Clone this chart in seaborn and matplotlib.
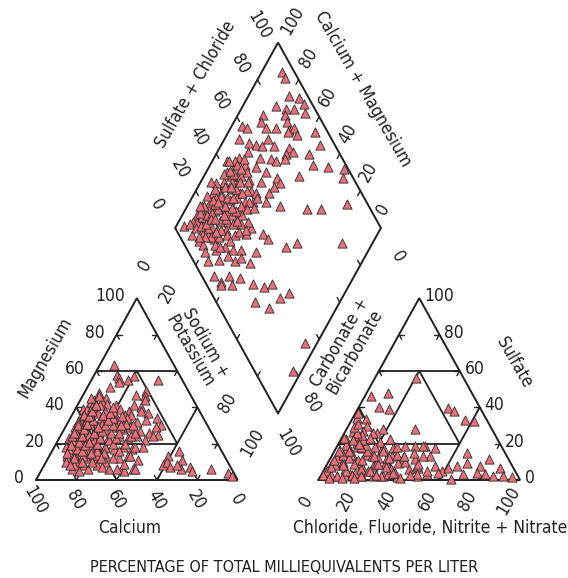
import numpy as np
import pandas as pd
import matplotlib
matplotlib.use("Agg")
import matplotlib.pyplot as plt
import seaborn as sns

# ---------------- data (percent of total milliequivalents per liter) ----------------
# Cation triangle: calcium and magnesium (sodium + potassium = remainder)
CA_PCT = [30, 31, 31, 27, 23, 12, 32, 38, 27, 21, 23, 24, 43, 49, 46, 44, 51, 40, 39, 35,
          31, 28, 57, 55, 51, 47, 44, 38, 35, 29, 26, 61, 56, 51, 47, 43, 38, 34, 29, 23,
          23, 26, 66, 61, 56, 52, 46, 43, 39, 35, 31, 27, 65, 72, 67, 63, 57, 53, 47, 43,
          38, 35, 30, 76, 73, 67, 63, 57, 53, 48, 44, 38, 78, 74, 68, 64, 59, 53, 48, 44,
          79, 72, 61, 54, 49, 33,
          21, 28, 22, 30, 30, 25, 20, 20, 10, 3, 2, 26, 48, 54,
          70, 66, 62, 58, 55, 60, 64, 68, 72, 74, 69, 63, 57, 53, 50, 47, 45, 52, 56, 61,
          65, 59, 54, 49, 44, 41, 46, 51, 56, 61, 66, 71, 76, 78, 75, 71, 67, 63, 55, 51,
          48, 43, 40, 38, 42, 47, 52, 57, 62, 67, 70, 64, 58, 50, 45, 46, 52, 55, 60, 68,
          80, 77, 74, 71, 68, 65, 62, 59, 56, 53, 50, 73, 70, 67, 64, 60, 57, 54, 51, 48,
          45, 42, 75, 72, 69, 66, 63, 58, 55, 52, 49, 46, 43, 40, 37, 59, 62, 77, 79, 65]
MG_PCT = [63, 58, 56, 55, 57, 55, 54, 51, 47, 49, 46, 44, 45, 44, 43, 42, 41, 41, 39, 38,
          41, 40, 39, 38, 37, 38, 36, 36, 36, 38, 37, 34, 33, 34, 33, 33, 34, 32, 33, 34,
          30, 29, 29, 30, 29, 28, 29, 28, 29, 27, 26, 25, 27, 23, 24, 23, 24, 23, 24, 23,
          24, 22, 24, 18, 17, 19, 17, 18, 17, 18, 17, 18, 13, 12, 14, 12, 13, 12, 13, 11,
          6, 8, 6, 6, 6, 8,
          16, 13, 11, 10, 7, 6, 7, 5, 6, 4, 2, 8, 6, 5,
          20, 24, 27, 30, 33, 22, 18, 15, 14, 10, 12, 14, 18, 22, 26, 30, 34, 31, 26, 25,
          29, 35, 38, 36, 29, 24, 20, 16, 12, 10, 8, 6, 5, 12, 17, 22, 27, 32, 39, 43,
          41, 38, 31, 26, 18, 13, 9, 6, 16, 20, 24, 30, 36, 45, 48, 46, 40, 36, 31, 26,
          10, 8, 14, 17, 21, 24, 28, 31, 35, 38, 41, 19, 13, 10, 7, 20, 23, 27, 30, 33,
          37, 40, 12, 10, 16, 19, 21, 26, 29, 20, 23, 26, 30, 35, 30, 15, 12, 15, 8, 15]

# Anion triangle: chloride (+ fluoride, nitrite, nitrate) and sulfate (carbonate + bicarbonate = remainder)
CL_PCT = [20.5, 3, 10.9, 10.1, 15.8, 44.4, 48.3, 56, 61.1, 34, 6.9, 9.4, 8.8, 4, 18.2, 16.2,
          24.3, 14.4, 2.1, 9.1, 6, 13, 23.1, 28.3, 33.7, 38.6, 43.6, 49.1, 2.4, 9.6, 17.4,
          23.6, 30, 35.9, 42.2, 48.8, 2.2, 8, 14.6, 23.3, 28.8, 34.9, 46.2, 1.6, 8.3, 14.1,
          20.7, 26.1, 31.1, 38.3, 47.9, 52.3, 54, 58.9,
          78.9, 86.8, 90.5, 95.2, 85.5, 76.3, 76.8, 81, 68.9, 64.8, 61.1, 66.1, 70.1, 65.3,
          57.5, 45.4, 42.6, 45.1, 47.3, 51.5, 33,
          2, 4, 3, 5, 4, 6, 7, 9, 10, 10, 5, 12, 16, 18, 14, 20, 24, 22, 27, 16,
          14, 11, 9, 14, 20, 24, 28, 30, 33, 36, 30, 40, 38, 32, 30, 36, 42, 44, 45, 40,
          1, 3, 2, 5, 4, 1, 6, 8, 11, 13, 9, 7, 12, 15, 18, 16, 20, 23, 25, 21,
          3, 6, 10, 14, 2, 8, 27, 30, 19, 24, 17, 11, 5, 35, 29, 2, 4, 1]
SO4_PCT = [56, 46, 47.7, 40, 38.9, 39.4, 38.2, 33, 32.5, 27.9, 33.7, 29.8, 27, 26.5, 28, 26,
           22.7, 22.7, 22.7, 20.4, 17.7, 17.7, 17.1, 17.7, 18.8, 18.8, 18.8, 17.7, 14.9, 14.4, 13.8,
           12.2, 13.3, 12.2, 11.6, 13.3, 9.4, 8.8, 9.4, 7.7, 8.8, 9.4, 6.6, 3.9, 2.2, 3.3,
           2.2, 2.2, 2.2, 1.7, 2.2, 3.3, 7.7, 5,
           11.6, 6.6, 2.2, 1.7, 2.2, 7.7, 3.9, 3.3, 9.4, 7.7, 6.6, 14.9, 3.3, 0.5,
           3.9, 13.3, 18.8, 7.7, 3.3, 5, 3.3,
           5, 8, 12, 16, 20, 24, 10, 14, 18, 6, 3, 2, 4, 7, 11, 13, 9, 5, 3, 16,
           19, 22, 25, 26, 21, 17, 12, 8, 6, 4, 2, 1, 10, 14, 18, 13, 6, 3, 9, 15,
           3, 7, 11, 14, 19, 23, 26, 2, 5, 9, 12, 16, 18, 3, 6, 11, 2, 5, 9, 13,
           29, 22, 20, 23, 16, 8, 3, 7, 18, 16, 1, 1, 1, 4, 12, 34, 31, 37]

# Diamond: calcium + magnesium and sulfate + chloride
CAMG_PCT = [90, 87, 80, 75, 71, 84, 78, 74, 68, 88, 77, 95, 92, 87, 83, 78, 74, 71, 69, 71,
            66, 58, 93, 87, 83, 80, 79, 74, 66, 52, 93, 88, 85, 78, 72, 66, 63, 55, 65, 69,
            50, 42, 34, 54, 32, 88, 83, 77, 71, 90, 84, 77, 87, 92, 88, 85, 82, 77, 71, 64,
            61, 91, 87, 83, 78, 73, 70, 64, 63, 85, 81, 78, 73, 69, 63, 55, 41, 34, 23, 93,
            89, 85, 81, 77, 73, 93, 89, 84, 80, 76, 96, 93, 87, 82, 79, 75, 85, 85, 82, 78,
            63, 56, 52, 64, 82, 76, 73, 69, 70, 41, 37, 15, 79, 74, 71, 66, 62, 70, 67, 62,
            60, 54, 54, 75, 68, 63, 61, 55, 47, 41, 38, 27, 41, 33, 30, 57, 62, 6, 4,
            94, 91, 90, 88, 86, 84, 90, 92, 88, 86, 83, 80, 89, 91, 86, 82, 80, 85, 89, 79,
            76, 74, 71, 80, 77, 83, 86, 73, 69, 66, 71, 75, 68, 81, 84, 78, 92, 95, 90, 87,
            92, 90, 88, 86, 89, 91, 87, 84, 82, 80, 86, 93, 94, 89, 87, 84, 81, 85, 83, 79,
            76, 73, 75, 72, 78, 68, 65, 70, 67, 77]
SO4CL_PCT = [94, 94, 91, 95, 96, 82, 86, 90, 94, 73, 84, 60, 62, 70, 71, 76, 83, 82, 85, 81,
             84, 94, 55, 59, 62, 64, 69, 70, 77, 93, 43, 50, 56, 60, 65, 74, 78, 85, 72, 67,
             84, 91, 98, 74, 95, 46, 51, 56, 59, 40, 44, 49, 41, 32, 35, 40, 44, 48, 54, 63,
             63, 28, 32, 38, 41, 47, 49, 55, 59, 30, 34, 38, 41, 45, 51, 57, 69, 76, 90, 19,
             21, 24, 29, 33, 35, 14, 17, 21, 24, 27, 5, 10, 14, 18, 20, 24, 12, 8, 14, 16,
             37, 41, 42, 33, 9, 19, 23, 27, 23, 49, 55, 77, 8, 14, 19, 22, 26, 13, 18, 20,
             24, 27, 33, 7, 6, 8, 13, 18, 23, 27, 32, 38, 19, 24, 32, 12, 7, 32, 19,
             8, 12, 16, 19, 22, 26, 24, 20, 28, 31, 33, 36, 36, 38, 43, 46, 50, 52, 47, 30,
             31, 38, 43, 15, 22, 12, 9, 29, 33, 37, 36, 45, 48, 40, 16, 27, 44, 30, 6, 26,
             16, 10, 13, 16, 26, 30, 35, 38, 30, 27, 28, 24, 18, 42, 47, 48, 44, 20, 22, 19,
             15, 17, 34, 32, 33, 30, 34, 40, 44, 42]

# ---------------- style ----------------
sns.set_theme(style="white")
plt.rcParams["font.family"] = ["Liberation Sans Narrow", "DejaVu Sans"]
plt.rcParams["font.stretch"] = "condensed"
TXT = "#231f20"
LINE = "#231f20"
FILL = "#E9707A"
FS = 12.5

W, H = 568, 578
fig = plt.figure(figsize=(W / 100, H / 100), dpi=100)
ax = fig.add_axes([0, 0, 1, 1])
KX, KY = 2.017, 2.10          # pixels per diagram unit
X0, Y0 = 36, 480               # pixel position of diagram origin
ax.set_xlim(-X0 / KX, (W - X0) / KX)
ax.set_ylim((Y0 - H) / KY, Y0 / KY)
ax.axis("off")


def P(px, py):
    return ((px - X0) / KX, (Y0 - py) / KY)


SQ = np.sqrt(3) / 2
GAP = 40


def cat_xy(ca, mg):
    ca = np.asarray(ca, float); mg = np.asarray(mg, float)
    na = 100 - ca - mg
    return na + mg / 2, mg * SQ


def an_xy(cl, so4):
    cl = np.asarray(cl, float); so4 = np.asarray(so4, float)
    return 100 + GAP + cl + so4 / 2, so4 * SQ


DCX, DCY, DHW, DHH = 120.0, 120.0, 51.0, 88.3
BX, BY = DCX, DCY - DHH
U = np.array([-DHW, DHH])
V = np.array([DHW, DHH])


def dia_xy(camg, so4cl):
    s = np.asarray(camg, float) / 100
    t = np.asarray(so4cl, float) / 100
    return BX + s * U[0] + t * V[0], BY + s * U[1] + t * V[1]


def seg(p, q, lw=1.3):
    ax.plot([p[0], q[0]], [p[1], q[1]], color=LINE, lw=lw, solid_capstyle="butt", zorder=2)


def poly(pts, lw=1.4):
    xs = [p[0] for p in pts] + [pts[0][0]]
    ys = [p[1] for p in pts] + [pts[0][1]]
    ax.plot(xs, ys, color=LINE, lw=lw, solid_joinstyle="miter", zorder=2)


def tick(p, d, L=2.6):
    d = np.asarray(d, float); d = d / np.hypot(*d)
    ax.plot([p[0], p[0] + L * d[0]], [p[1], p[1] + L * d[1]], color=LINE, lw=1.0, zorder=2)


# ---------------- cation triangle ----------------
poly([cat_xy(100, 0), cat_xy(0, 0), cat_xy(0, 100)])
seg(cat_xy(40, 60), cat_xy(0, 60))
seg(cat_xy(80, 20), cat_xy(20, 20))
seg(cat_xy(60, 40), cat_xy(60, 0))
seg(cat_xy(0, 40), cat_xy(40, 0))
seg(cat_xy(20, 60), cat_xy(60, 20))
seg(cat_xy(20, 60), cat_xy(20, 20))
for v in (20, 40, 60, 80):
    b = cat_xy(v, 0); tick(b, (0.5, SQ)); tick(b, (-0.5, SQ))
    l = cat_xy(100 - v, v); tick(l, (1, 0)); tick(l, (0.5, -SQ))
    r = cat_xy(0, v); tick(r, (-1, 0)); tick(r, (-0.5, -SQ))

# ---------------- anion triangle ----------------
poly([an_xy(0, 0), an_xy(100, 0), an_xy(0, 100)])
seg(an_xy(0, 60), an_xy(40, 60))
seg(an_xy(0, 20), an_xy(60, 20))
seg(an_xy(0, 40), an_xy(40, 0))
seg(an_xy(60, 40), an_xy(60, 0))
seg(an_xy(20, 60), an_xy(20, 20))
seg(an_xy(20, 60), an_xy(60, 20))
for v in (20, 40, 60, 80):
    b = an_xy(v, 0); tick(b, (0.5, SQ)); tick(b, (-0.5, SQ))
    l = an_xy(0, v); tick(l, (1, 0)); tick(l, (0.5, -SQ))
    r = an_xy(100 - v, v); tick(r, (-1, 0)); tick(r, (-0.5, -SQ))

# ---------------- diamond ----------------
poly([dia_xy(0, 0), dia_xy(100, 0), dia_xy(100, 100), dia_xy(0, 100)])
for v in (20, 40, 60, 80):
    tick(dia_xy(100, v), -U)
    tick(dia_xy(v, 100), -V)
    tick(dia_xy(v, 0), V)
    tick(dia_xy(0, v), U)

# ---------------- points ----------------
cat = pd.DataFrame({"Ca": CA_PCT, "Mg": MG_PCT})
cat["x"], cat["y"] = cat_xy(cat["Ca"], cat["Mg"])
an = pd.DataFrame({"Cl": CL_PCT, "SO4": SO4_PCT})
an["x"], an["y"] = an_xy(an["Cl"], an["SO4"])
dia = pd.DataFrame({"CaMg": CAMG_PCT, "SO4Cl": SO4CL_PCT})
dia["x"], dia["y"] = dia_xy(dia["CaMg"], dia["SO4Cl"])

for df in (cat, an, dia):
    sns.scatterplot(data=df, x="x", y="y", ax=ax, marker="^", s=44, color=FILL,
                    edgecolor="#2a2a2a", linewidth=0.6, legend=False, zorder=3)

# ---------------- text ----------------
def T(px, py, s, rot=0, ha="center", va="center", fs=FS):
    x, y = P(px, py)
    ax.text(x, y, s, rotation=rot, ha=ha, va=va, fontsize=fs, color=TXT,
            rotation_mode="anchor", linespacing=1.0, zorder=4)


TICKS = ["0", "20", "40", "60", "80", "100"]
# Magnesium (left side of cation triangle)
for i, lab in enumerate(TICKS):
    m = 20 * i
    x, y = cat_xy(100 - m, m)
    ax.text(x - 12 / KX, y + 2 / KY, lab, ha="right", va="center", fontsize=FS, color=TXT)
# Calcium (base of cation triangle)
for i, lab in enumerate(TICKS):
    c = 20 * i
    x, y = cat_xy(c, 0)
    ax.text(x - 1 / KX, y - 20 / KY, lab, ha="center", va="center", rotation=-60,
            rotation_mode="anchor", fontsize=FS, color=TXT)
# Sulfate (right side of anion triangle)
for i, lab in enumerate(TICKS):
    s = 20 * i
    x, y = an_xy(100 - s, s)
    ax.text(x + 5 / KX, y + 2 / KY, lab, ha="left", va="center", fontsize=FS, color=TXT)
# Chloride (base of anion triangle)
for i, lab in enumerate(TICKS):
    c = 20 * i
    x, y = an_xy(c, 0)
    ax.text(x - 12 / KX, y - 21 / KY, lab, ha="center", va="center", rotation=60,
            rotation_mode="anchor", fontsize=FS, color=TXT)

# diamond upper-left: sulfate + chloride
for (px, py), lab in zip([(157, 205), (180, 169), (199, 136), (220, 101), (240, 64), (259, 25)], TICKS):
    T(px, py, lab, rot=-60)
# diamond upper-right: calcium + magnesium
for (px, py), lab in zip([(383, 209), (368, 172), (348, 134), (328, 97), (309, 58), (292, 21)], TICKS):
    T(px, py, lab, rot=60)
# sodium + potassium
for (px, py), lab in zip([(145, 265), (168, 293), (228, 403), (252, 443)], ["0", "20", "80", "100"]):
    T(px, py, lab, rot=60)
# carbonate + bicarbonate
for (px, py), lab in zip([(398, 257), (311, 403), (288, 443)], ["0", "80", "100"]):
    T(px, py, lab, rot=-60)

T(45, 357, "Magnesium", rot=60)
T(198, 347, "Sodium +\nPotassium", rot=-60)
T(130, 528, "Calcium")
T(347, 347, "Carbonate +\nBicarbonate", rot=60)
T(514, 362, "Sulfate", rot=-60)
T(430, 528, "Chloride, Fluoride, Nitrite + Nitrate")
T(196, 84, "Sulfate + Chloride", rot=60)
T(363, 89, "Calcium + Magnesium", rot=-60)
T(284, 567, "PERCENTAGE OF TOTAL MILLIEQUIVALENTS PER LITER", fs=11.6)

fig.savefig("out.png", dpi=100, facecolor="white")
